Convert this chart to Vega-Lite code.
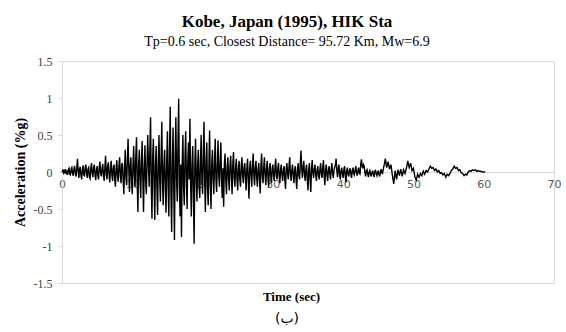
{
  "$schema": "https://vega.github.io/schema/vega-lite/v6.json",
  "background": "white",
  "padding": {"left": 12, "top": 12, "right": 5, "bottom": 5},
  "title": {"text": "(ب)", "orient": "bottom", "font": "DejaVu Sans", "fontSize": 14, "fontWeight": "normal", "color": "black", "offset": 8, "anchor": "middle"},
  "vconcat": [
    {
      "width": 492,
      "height": 222,
      "title": {
        "text": "Kobe, Japan (1995), HIK Sta",
        "subtitle": "Tp=0.6 sec, Closest Distance= 95.72 Km, Mw=6.9",
        "font": "Liberation Serif, Times New Roman, serif", "fontSize": 17, "fontWeight": "bold", "color": "black",
        "subtitleFont": "Liberation Serif, Times New Roman, serif", "subtitleFontSize": 14, "subtitleColor": "black", "subtitlePadding": 4,
        "anchor": "middle", "frame": "bounds", "offset": 5
      },
      "data": {"values": [
{"t":0,"a":0},{"t":0.1,"a":0.02},{"t":0.2,"a":-0.01},{"t":0.3,"a":0.03},{"t":0.4,"a":-0.02},{"t":0.5,"a":0.04},{"t":0.6,"a":-0.03},{"t":0.7,"a":0.02},{"t":0.8,"a":-0.04},{"t":0.9,"a":0.03},
{"t":1,"a":0.05},{"t":1.1,"a":-0.03},{"t":1.2,"a":-0.04},{"t":1.3,"a":0.04},{"t":1.4,"a":0.06},{"t":1.5,"a":-0.02},{"t":1.6,"a":-0.05},{"t":1.7,"a":0.05},{"t":1.8,"a":0.08},{"t":1.9,"a":-0.03},
{"t":2,"a":-0.06},{"t":2.1,"a":0.05},{"t":2.2,"a":0.18},{"t":2.3,"a":0.02},{"t":2.4,"a":-0.08},{"t":2.5,"a":0.04},{"t":2.6,"a":0.07},{"t":2.7,"a":-0.05},{"t":2.8,"a":-0.1},{"t":2.9,"a":0.03},
{"t":3,"a":0.09},{"t":3.1,"a":-0.04},{"t":3.2,"a":-0.05},{"t":3.3,"a":0.06},{"t":3.4,"a":0.1},{"t":3.5,"a":-0.03},{"t":3.6,"a":-0.08},{"t":3.7,"a":0.04},{"t":3.8,"a":0.06},{"t":3.9,"a":-0.07},
{"t":4,"a":-0.09},{"t":4.1,"a":0.05},{"t":4.2,"a":0.12},{"t":4.3,"a":-0.02},{"t":4.4,"a":-0.07},{"t":4.5,"a":0.06},{"t":4.6,"a":0.1},{"t":4.7,"a":-0.04},{"t":4.8,"a":-0.11},{"t":4.9,"a":0.03},
{"t":5,"a":0.08},{"t":5.1,"a":-0.05},{"t":5.2,"a":-0.1},{"t":5.3,"a":0.07},{"t":5.4,"a":0.14},{"t":5.5,"a":-0.02},{"t":5.6,"a":-0.06},{"t":5.7,"a":0.05},{"t":5.8,"a":0.11},{"t":5.9,"a":-0.04},
{"t":6,"a":-0.12},{"t":6.1,"a":0.06},{"t":6.2,"a":0.22},{"t":6.3,"a":-0.03},{"t":6.4,"a":-0.1},{"t":6.5,"a":0.08},{"t":6.6,"a":0.13},{"t":6.7,"a":-0.05},{"t":6.8,"a":-0.14},{"t":6.9,"a":0.04},
{"t":7,"a":0.15},{"t":7.1,"a":-0.04},{"t":7.2,"a":-0.12},{"t":7.3,"a":0.06},{"t":7.4,"a":0.1},{"t":7.5,"a":-0.08},{"t":7.6,"a":-0.2},{"t":7.7,"a":0.05},{"t":7.8,"a":0.16},{"t":7.9,"a":-0.06},
{"t":8,"a":-0.13},{"t":8.1,"a":0.08},{"t":8.2,"a":0.2},{"t":8.3,"a":-0.05},{"t":8.4,"a":-0.15},{"t":8.5,"a":0.1},{"t":8.6,"a":0.12},{"t":8.7,"a":-0.1},{"t":8.8,"a":-0.3},{"t":8.9,"a":0.05},
{"t":9,"a":0.3},{"t":9.1,"a":-0.08},{"t":9.2,"a":-0.18},{"t":9.3,"a":0.15},{"t":9.4,"a":0.45},{"t":9.5,"a":0.05},{"t":9.6,"a":-0.27},{"t":9.7,"a":0.08},{"t":9.8,"a":0.2},{"t":9.9,"a":-0.12},
{"t":10,"a":-0.3},{"t":10.1,"a":0.1},{"t":10.2,"a":0.35},{"t":10.3,"a":-0.05},{"t":10.4,"a":-0.2},{"t":10.5,"a":0.2},{"t":10.6,"a":0.47},{"t":10.7,"a":-0.15},{"t":10.8,"a":-0.54},{"t":10.9,"a":0.1},
{"t":11,"a":0.3},{"t":11.1,"a":-0.1},{"t":11.2,"a":-0.35},{"t":11.3,"a":0.15},{"t":11.4,"a":0.42},{"t":11.5,"a":-0.1},{"t":11.6,"a":-0.54},{"t":11.7,"a":0.05},{"t":11.8,"a":0.36},{"t":11.9,"a":-0.12},
{"t":12,"a":-0.3},{"t":12.1,"a":0.15},{"t":12.2,"a":0.5},{"t":12.3,"a":0.1},{"t":12.4,"a":-0.2},{"t":12.5,"a":0.3},{"t":12.6,"a":0.74},{"t":12.7,"a":-0.2},{"t":12.8,"a":-0.63},{"t":12.9,"a":0.2},
{"t":13,"a":0.45},{"t":13.1,"a":-0.15},{"t":13.2,"a":-0.65},{"t":13.3,"a":0.1},{"t":13.4,"a":0.35},{"t":13.5,"a":-0.2},{"t":13.6,"a":-0.58},{"t":13.7,"a":0.15},{"t":13.8,"a":0.5},{"t":13.9,"a":-0.1},
{"t":14,"a":-0.4},{"t":14.1,"a":0.2},{"t":14.2,"a":0.68},{"t":14.3,"a":-0.15},{"t":14.4,"a":-0.45},{"t":14.5,"a":0.1},{"t":14.6,"a":0.3},{"t":14.7,"a":-0.2},{"t":14.8,"a":-0.55},{"t":14.9,"a":0.15},
{"t":15,"a":0.55},{"t":15.1,"a":-0.2},{"t":15.2,"a":-0.6},{"t":15.3,"a":0.3},{"t":15.4,"a":0.88},{"t":15.5,"a":-0.3},{"t":15.6,"a":-0.81},{"t":15.7,"a":0.1},{"t":15.8,"a":0.6},{"t":15.9,"a":-0.2},
{"t":16,"a":-0.92},{"t":16.1,"a":0.2},{"t":16.2,"a":0.74},{"t":16.3,"a":-0.1},{"t":16.4,"a":-0.4},{"t":16.5,"a":0.4},{"t":16.6,"a":0.99},{"t":16.7,"a":-0.2},{"t":16.8,"a":-0.6},{"t":16.9,"a":0.1},
{"t":17,"a":-0.88},{"t":17.1,"a":0.1},{"t":17.2,"a":0.5},{"t":17.3,"a":-0.2},{"t":17.4,"a":-0.45},{"t":17.5,"a":0.2},{"t":17.6,"a":0.55},{"t":17.7,"a":-0.1},{"t":17.8,"a":-0.5},{"t":17.9,"a":0.15},
{"t":18,"a":0.4},{"t":18.1,"a":-0.1},{"t":18.2,"a":0.72},{"t":18.3,"a":-0.15},{"t":18.4,"a":-0.6},{"t":18.5,"a":0.1},{"t":18.6,"a":0.35},{"t":18.7,"a":-0.3},{"t":18.8,"a":-0.97},{"t":18.9,"a":0.1},
{"t":19,"a":0.45},{"t":19.1,"a":-0.1},{"t":19.2,"a":-0.4},{"t":19.3,"a":0.1},{"t":19.4,"a":0.3},{"t":19.5,"a":-0.2},{"t":19.6,"a":-0.35},{"t":19.7,"a":0.15},{"t":19.8,"a":0.5},{"t":19.9,"a":-0.1},
{"t":20,"a":-0.3},{"t":20.1,"a":0.2},{"t":20.2,"a":0.68},{"t":20.3,"a":-0.1},{"t":20.4,"a":-0.54},{"t":20.5,"a":0.15},{"t":20.6,"a":0.4},{"t":20.7,"a":-0.2},{"t":20.8,"a":-0.45},{"t":20.9,"a":0.1},
{"t":21,"a":0.56},{"t":21.1,"a":-0.15},{"t":21.2,"a":-0.5},{"t":21.3,"a":0.1},{"t":21.4,"a":0.3},{"t":21.5,"a":-0.1},{"t":21.6,"a":-0.3},{"t":21.7,"a":0.15},{"t":21.8,"a":0.45},{"t":21.9,"a":-0.1},
{"t":22,"a":-0.27},{"t":22.1,"a":0.1},{"t":22.2,"a":0.43},{"t":22.3,"a":-0.05},{"t":22.4,"a":-0.2},{"t":22.5,"a":0.15},{"t":22.6,"a":0.4},{"t":22.7,"a":-0.1},{"t":22.8,"a":-0.35},{"t":22.9,"a":0.05},
{"t":23,"a":-0.47},{"t":23.1,"a":0.1},{"t":23.2,"a":0.25},{"t":23.3,"a":-0.1},{"t":23.4,"a":-0.3},{"t":23.5,"a":0.05},{"t":23.6,"a":0.2},{"t":23.7,"a":-0.1},{"t":23.8,"a":-0.25},{"t":23.9,"a":0.08},
{"t":24,"a":0.22},{"t":24.1,"a":-0.05},{"t":24.2,"a":-0.3},{"t":24.3,"a":0.1},{"t":24.4,"a":0.27},{"t":24.5,"a":-0.08},{"t":24.6,"a":-0.2},{"t":24.7,"a":0.05},{"t":24.8,"a":0.18},{"t":24.9,"a":-0.1},
{"t":25,"a":-0.25},{"t":25.1,"a":0.05},{"t":25.2,"a":0.15},{"t":25.3,"a":-0.1},{"t":25.4,"a":-0.2},{"t":25.5,"a":0.08},{"t":25.6,"a":0.2},{"t":25.7,"a":-0.05},{"t":25.8,"a":-0.15},{"t":25.9,"a":0.06},
{"t":26,"a":0.12},{"t":26.1,"a":-0.08},{"t":26.2,"a":-0.25},{"t":26.3,"a":0.05},{"t":26.4,"a":0.18},{"t":26.5,"a":-0.1},{"t":26.6,"a":-0.36},{"t":26.7,"a":0.05},{"t":26.8,"a":0.15},{"t":26.9,"a":-0.05},
{"t":27,"a":-0.2},{"t":27.1,"a":0.08},{"t":27.2,"a":0.25},{"t":27.3,"a":-0.05},{"t":27.4,"a":-0.18},{"t":27.5,"a":0.06},{"t":27.6,"a":0.15},{"t":27.7,"a":-0.08},{"t":27.8,"a":-0.2},{"t":27.9,"a":0.04},
{"t":28,"a":0.12},{"t":28.1,"a":-0.1},{"t":28.2,"a":-0.29},{"t":28.3,"a":0.08},{"t":28.4,"a":0.25},{"t":28.5,"a":-0.05},{"t":28.6,"a":-0.15},{"t":28.7,"a":0.06},{"t":28.8,"a":0.2},{"t":28.9,"a":-0.05},
{"t":29,"a":-0.18},{"t":29.1,"a":0.05},{"t":29.2,"a":0.15},{"t":29.3,"a":-0.08},{"t":29.4,"a":-0.2},{"t":29.5,"a":0.04},{"t":29.6,"a":0.12},{"t":29.7,"a":-0.06},{"t":29.8,"a":-0.15},{"t":29.9,"a":0.05},
{"t":30,"a":0.1},{"t":30.1,"a":-0.05},{"t":30.2,"a":-0.12},{"t":30.3,"a":0.06},{"t":30.4,"a":0.18},{"t":30.5,"a":-0.04},{"t":30.6,"a":-0.1},{"t":30.7,"a":0.05},{"t":30.8,"a":0.12},{"t":30.9,"a":-0.06},
{"t":31,"a":-0.15},{"t":31.1,"a":0.04},{"t":31.2,"a":0.1},{"t":31.3,"a":-0.05},{"t":31.4,"a":-0.12},{"t":31.5,"a":0.03},{"t":31.6,"a":0.08},{"t":31.7,"a":-0.1},{"t":31.8,"a":-0.23},{"t":31.9,"a":0.04},
{"t":32,"a":0.12},{"t":32.1,"a":-0.03},{"t":32.2,"a":-0.1},{"t":32.3,"a":0.08},{"t":32.4,"a":0.2},{"t":32.5,"a":-0.04},{"t":32.6,"a":-0.12},{"t":32.7,"a":0.03},{"t":32.8,"a":0.1},{"t":32.9,"a":-0.05},
{"t":33,"a":-0.15},{"t":33.1,"a":0.03},{"t":33.2,"a":0.08},{"t":33.3,"a":-0.1},{"t":33.4,"a":-0.23},{"t":33.5,"a":0.02},{"t":33.6,"a":0.12},{"t":33.7,"a":-0.04},{"t":33.8,"a":-0.1},{"t":33.9,"a":0.1},
{"t":34,"a":0.29},{"t":34.1,"a":0.05},{"t":34.2,"a":-0.08},{"t":34.3,"a":0.06},{"t":34.4,"a":0.15},{"t":34.5,"a":-0.04},{"t":34.6,"a":-0.12},{"t":34.7,"a":0.03},{"t":34.8,"a":0.1},{"t":34.9,"a":-0.1},
{"t":35,"a":-0.25},{"t":35.1,"a":0.02},{"t":35.2,"a":0.12},{"t":35.3,"a":-0.1},{"t":35.4,"a":-0.27},{"t":35.5,"a":0.05},{"t":35.6,"a":0.16},{"t":35.7,"a":-0.02},{"t":35.8,"a":-0.08},{"t":35.9,"a":0.04},
{"t":36,"a":0.1},{"t":36.1,"a":-0.04},{"t":36.2,"a":-0.12},{"t":36.3,"a":0.03},{"t":36.4,"a":0.08},{"t":36.5,"a":-0.05},{"t":36.6,"a":-0.1},{"t":36.7,"a":0.04},{"t":36.8,"a":0.12},{"t":36.9,"a":-0.03},
{"t":37,"a":-0.08},{"t":37.1,"a":0.06},{"t":37.2,"a":0.16},{"t":37.3,"a":-0.05},{"t":37.4,"a":-0.18},{"t":37.5,"a":0.03},{"t":37.6,"a":0.1},{"t":37.7,"a":-0.04},{"t":37.8,"a":-0.12},{"t":37.9,"a":0.02},
{"t":38,"a":0.08},{"t":38.1,"a":-0.03},{"t":38.2,"a":-0.1},{"t":38.3,"a":0.04},{"t":38.4,"a":0.12},{"t":38.5,"a":-0.02},{"t":38.6,"a":-0.08},{"t":38.7,"a":0.03},{"t":38.8,"a":0.06},{"t":38.9,"a":0.1},
{"t":39,"a":0.18},{"t":39.1,"a":0.02},{"t":39.2,"a":-0.07},{"t":39.3,"a":0.04},{"t":39.4,"a":0.1},{"t":39.5,"a":-0.04},{"t":39.6,"a":-0.1},{"t":39.7,"a":0.02},{"t":39.8,"a":0.06},{"t":39.9,"a":-0.03},
{"t":40,"a":-0.08},{"t":40.1,"a":0.03},{"t":40.2,"a":0.08},{"t":40.3,"a":-0.05},{"t":40.4,"a":-0.14},{"t":40.5,"a":0.01},{"t":40.6,"a":0.06},{"t":40.7,"a":-0.03},{"t":40.8,"a":-0.06},{"t":40.9,"a":0.02},
{"t":41,"a":0.05},{"t":41.1,"a":-0.03},{"t":41.2,"a":-0.08},{"t":41.3,"a":0.02},{"t":41.4,"a":0.06},{"t":41.5,"a":-0.02},{"t":41.6,"a":-0.04},{"t":41.7,"a":0.03},{"t":41.8,"a":0.08},{"t":41.9,"a":-0.01},
{"t":42,"a":-0.05},{"t":42.1,"a":0.02},{"t":42.2,"a":0.06},{"t":42.3,"a":-0.02},{"t":42.4,"a":-0.03},{"t":42.5,"a":0.1},{"t":42.6,"a":0.17},{"t":42.7,"a":0.08},{"t":42.8,"a":0.05},{"t":42.9,"a":0.1},
{"t":43,"a":0.08},{"t":43.1,"a":-0.01},{"t":43.2,"a":-0.06},{"t":43.3,"a":0.01},{"t":43.4,"a":0.03},{"t":43.5,"a":-0.03},{"t":43.6,"a":-0.07},{"t":43.7,"a":0},{"t":43.8,"a":0.02},{"t":43.9,"a":-0.03},
{"t":44,"a":-0.06},{"t":44.1,"a":-0.01},{"t":44.2,"a":0.02},{"t":44.3,"a":-0.03},{"t":44.4,"a":-0.07},{"t":44.5,"a":0},{"t":44.6,"a":0.03},{"t":44.7,"a":-0.02},{"t":44.8,"a":-0.05},{"t":44.9,"a":-0.01},
{"t":45,"a":0.02},{"t":45.1,"a":-0.03},{"t":45.2,"a":-0.06},{"t":45.3,"a":0},{"t":45.4,"a":0.04},{"t":45.5,"a":-0.01},{"t":45.6,"a":-0.02},{"t":45.7,"a":0.03},{"t":45.8,"a":0.08},{"t":45.9,"a":0.12},
{"t":46,"a":0.18},{"t":46.2,"a":0.06},{"t":46.4,"a":0.14},{"t":46.6,"a":0.04},{"t":46.8,"a":0.1},
{"t":47,"a":-0.04},{"t":47.2,"a":-0.16},{"t":47.4,"a":0.02},{"t":47.6,"a":-0.1},{"t":47.8,"a":0.03},
{"t":48,"a":-0.05},{"t":48.2,"a":0.04},{"t":48.4,"a":-0.06},{"t":48.6,"a":0.03},{"t":48.8,"a":-0.02},
{"t":49,"a":0.05},{"t":49.2,"a":0.15},{"t":49.4,"a":0.06},{"t":49.6,"a":0.12},{"t":49.8,"a":0.02},
{"t":50,"a":0.05},{"t":50.2,"a":-0.06},{"t":50.4,"a":-0.11},{"t":50.6,"a":-0.03},{"t":50.8,"a":-0.07},
{"t":51,"a":-0.02},{"t":51.2,"a":-0.05},{"t":51.4,"a":0.01},{"t":51.6,"a":-0.03},{"t":51.8,"a":0.02},
{"t":52,"a":0},{"t":52.2,"a":0.04},{"t":52.4,"a":0.08},{"t":52.6,"a":0.05},{"t":52.8,"a":0.06},
{"t":53,"a":0.02},{"t":53.2,"a":0.04},{"t":53.4,"a":0},{"t":53.6,"a":0.02},{"t":53.8,"a":-0.02},
{"t":54,"a":-0.01},{"t":54.2,"a":-0.04},{"t":54.4,"a":-0.02},{"t":54.6,"a":-0.07},{"t":54.8,"a":-0.03},
{"t":55,"a":-0.05},{"t":55.2,"a":-0.02},{"t":55.4,"a":0.02},{"t":55.6,"a":0.04},{"t":55.8,"a":0.08},
{"t":56,"a":0.05},{"t":56.2,"a":0.06},{"t":56.4,"a":0.02},{"t":56.6,"a":0.03},{"t":56.8,"a":-0.01},
{"t":57,"a":-0.02},{"t":57.2,"a":-0.05},{"t":57.4,"a":-0.03},{"t":57.6,"a":-0.04},{"t":57.8,"a":0},
{"t":58,"a":0.02},{"t":58.2,"a":0.01},{"t":58.4,"a":0.03},{"t":58.6,"a":0.02},{"t":58.8,"a":0.03},
{"t":59,"a":0.01},{"t":59.2,"a":0.02},{"t":59.4,"a":0.01},{"t":59.6,"a":0.01},{"t":59.8,"a":0},
{"t":60,"a":0},{"t":60.2,"a":0}
      ]},
      "mark": {"type": "line", "color": "black", "strokeWidth": 1.4, "interpolate": "linear"},
      "encoding": {
        "x": {
          "field": "t", "type": "quantitative",
          "scale": {"domain": [0, 70], "nice": false, "zero": false},
          "axis": {
            "values": [0, 10, 20, 30, 40, 50, 60, 70],
            "offset": -111,
            "grid": false,
            "domainColor": "#d9d9d9",
            "ticks": false,
            "labelPadding": 6,
            "labelFont": "DejaVu Sans", "labelFontSize": 11, "labelColor": "#595959",
            "labelFlush": false,
            "title": "Time (sec)",
            "titleFont": "Liberation Serif, Times New Roman, serif", "titleFontSize": 13, "titleFontWeight": "bold", "titleColor": "black",
            "titleY": 124, "titleX": 229, "titleBaseline": "middle"
          }
        },
        "y": {
          "field": "a", "type": "quantitative",
          "scale": {"domain": [-1.5, 1.5], "nice": false},
          "axis": {
            "values": [-1.5, -1, -0.5, 0, 0.5, 1, 1.5],
            "format": "~g",
            "labelExpr": "replace(datum.label, '\u2212', '-')",
            "grid": false,
            "domainColor": "#d9d9d9",
            "tickColor": "#d9d9d9", "tickSize": 4,
            "labelPadding": 6,
            "labelFont": "Liberation Serif, Times New Roman, serif", "labelFontSize": 12, "labelColor": "#404040",
            "title": "Acceleration (%g)",
            "titleFont": "Liberation Serif, Times New Roman, serif", "titleFontSize": 14, "titleFontWeight": "bold", "titleColor": "black",
            "titlePadding": 6
          }
        }
      }
    }
  ],
  "config": {
    "view": {"stroke": "#d9d9d9"},
    "concat": {"spacing": 0}
  }
}
